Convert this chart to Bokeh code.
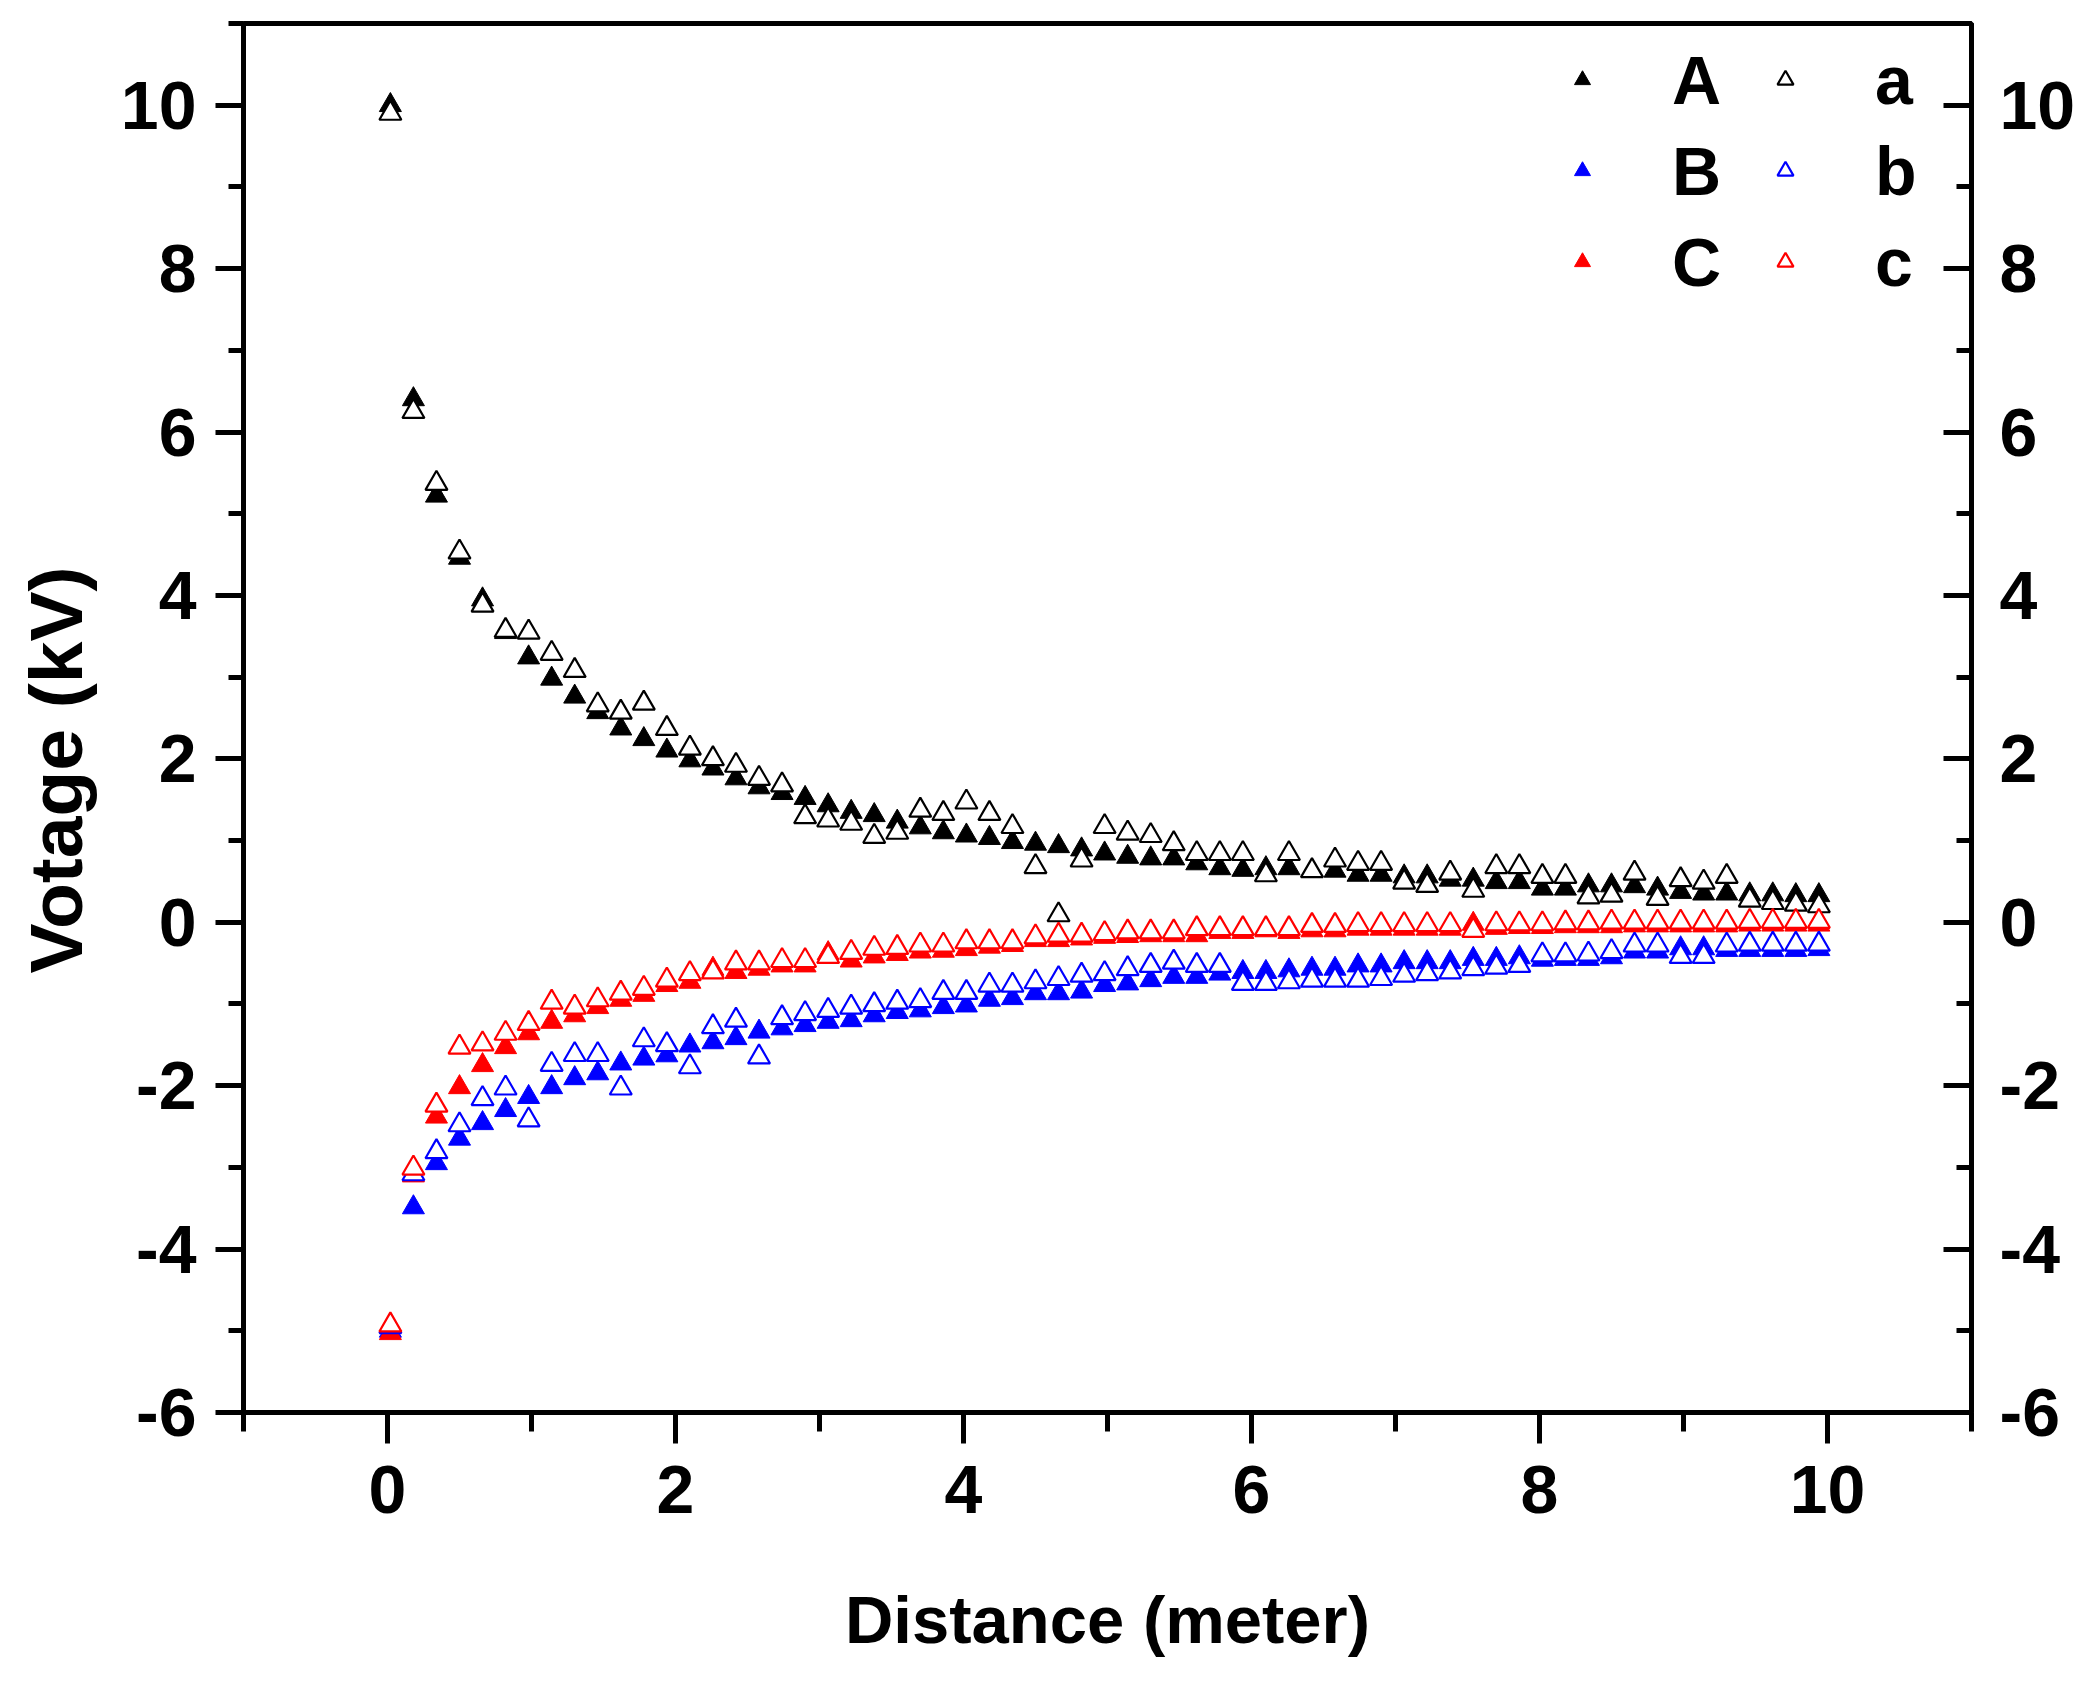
from bokeh.plotting import figure
from bokeh.models import LinearAxis, SingleIntervalTicker, Legend, LegendItem, Range1d, CustomJSTickFormatter
from bokeh.embed import file_html
from bokeh.resources import INLINE

# ---- data ----
distance = [0.02, 0.18, 0.34, 0.50, 0.66, 0.82, 0.98, 1.14, 1.30, 1.46, 1.62, 1.78, 1.94, 2.10, 2.26,
            2.42, 2.58, 2.74, 2.90, 3.06, 3.22, 3.38, 3.54, 3.70, 3.86, 4.02, 4.18, 4.34, 4.50, 4.66,
            4.82, 4.98, 5.14, 5.30, 5.46, 5.62, 5.78, 5.94, 6.10, 6.26, 6.42, 6.58, 6.74, 6.90, 7.06,
            7.22, 7.38, 7.54, 7.70, 7.86, 8.02, 8.18, 8.34, 8.50, 8.66, 8.82, 8.98, 9.14, 9.30, 9.46,
            9.62, 9.78, 9.94]

A = [10.0, 6.4, 5.22, 4.46, 3.95, 3.55, 3.24, 2.98, 2.76, 2.57,
     2.37, 2.24, 2.1, 1.98, 1.88, 1.76, 1.65, 1.58, 1.52, 1.43,
     1.35, 1.31, 1.23, 1.16, 1.10, 1.06, 1.03, 0.98, 0.96, 0.93,
     0.89, 0.84, 0.80, 0.78, 0.78, 0.72, 0.66, 0.64, 0.66, 0.66,
     0.63, 0.63, 0.58, 0.58, 0.56, 0.56, 0.52, 0.52, 0.49, 0.49,
     0.41, 0.41, 0.45, 0.45, 0.44, 0.41, 0.37, 0.35, 0.35, 0.34,
     0.34, 0.33, 0.33]
a = [9.9, 6.25, 5.37, 4.53, 3.88, 3.57, 3.55, 3.29, 3.08, 2.66,
     2.57, 2.68, 2.37, 2.13, 2.0, 1.92, 1.76, 1.68, 1.29, 1.25,
     1.21, 1.05, 1.1, 1.37, 1.33, 1.47, 1.33, 1.17, 0.68, 0.09,
     0.76, 1.17, 1.09, 1.06, 0.96, 0.84, 0.84, 0.84, 0.58, 0.84,
     0.63, 0.76, 0.72, 0.72, 0.49, 0.45, 0.60, 0.39, 0.68, 0.68,
     0.56, 0.56, 0.31, 0.33, 0.60, 0.29, 0.52, 0.49, 0.56, 0.27,
     0.24, 0.22, 0.20]
B = [-5.0, -3.49, -2.95, -2.65, -2.46, -2.3, -2.14, -2.02, -1.91, -1.85,
     -1.73, -1.67, -1.63, -1.51, -1.47, -1.42, -1.34, -1.3, -1.26, -1.22,
     -1.2, -1.14, -1.1, -1.08, -1.04, -1.02, -0.95, -0.93, -0.87, -0.87,
     -0.85, -0.77, -0.75, -0.71, -0.67, -0.67, -0.63, -0.61, -0.61, -0.59,
     -0.57, -0.57, -0.53, -0.53, -0.49, -0.49, -0.49, -0.45, -0.45, -0.43,
     -0.46, -0.45, -0.45, -0.43, -0.36, -0.36, -0.32, -0.32, -0.34, -0.34,
     -0.34, -0.34, -0.33]
b = [-4.95, -3.08, -2.81, -2.48, -2.16, -2.03, -2.42, -1.74, -1.62, -1.62,
     -2.03, -1.44, -1.5, -1.77, -1.28, -1.2, -1.65, -1.17, -1.12, -1.08,
     -1.04, -1.01, -0.98, -0.96, -0.86, -0.86, -0.77, -0.77, -0.73, -0.69,
     -0.65, -0.63, -0.57, -0.53, -0.49, -0.53, -0.53, -0.75, -0.75, -0.73,
     -0.71, -0.71, -0.71, -0.69, -0.65, -0.63, -0.61, -0.57, -0.55, -0.53,
     -0.40, -0.40, -0.39, -0.36, -0.28, -0.28, -0.42, -0.42, -0.28, -0.27,
     -0.27, -0.27, -0.27]
C = [-5.03, -3.1, -2.38, -2.02, -1.75, -1.53, -1.36, -1.22, -1.14, -1.04,
     -0.95, -0.89, -0.77, -0.73, -0.57, -0.61, -0.57, -0.53, -0.53, -0.38,
     -0.47, -0.42, -0.39, -0.36, -0.35, -0.33, -0.30, -0.28, -0.22, -0.22,
     -0.20, -0.18, -0.17, -0.16, -0.16, -0.16, -0.12, -0.12, -0.10, -0.12,
     -0.10, -0.10, -0.08, -0.08, -0.08, -0.08, -0.08, -0.02, -0.07, -0.06,
     -0.06, -0.05, -0.05, -0.05, -0.04, -0.04, -0.04, -0.04, -0.04, -0.03,
     -0.03, -0.03, -0.03]
c = [-4.93, -3.01, -2.24, -1.53, -1.49, -1.36, -1.24, -0.98, -1.04, -0.95,
     -0.87, -0.81, -0.71, -0.63, -0.61, -0.5, -0.5, -0.47, -0.47, -0.42,
     -0.37, -0.32, -0.31, -0.28, -0.28, -0.24, -0.24, -0.24, -0.18, -0.16,
     -0.16, -0.14, -0.12, -0.12, -0.12, -0.08, -0.08, -0.08, -0.08, -0.08,
     -0.04, -0.04, -0.03, -0.03, -0.03, -0.03, -0.03, -0.10, -0.02, -0.02,
     -0.02, -0.01, -0.01, 0.0, 0.0, 0.0, 0.0, 0.0, 0.0, 0.01,
     0.01, 0.01, 0.01]

filled_labels = ["A", "B", "C"]
open_labels = ["a", "b", "c"]
series_colors = ["#000000", "#0000FF", "#FF0000"]
x_label = "Distance (meter)"
y_label = "Votage (kV)"

FONT = "Liberation Sans"
TICK_FS = "68px"

p = figure(width=2078, height=1673, output_backend="svg", toolbar_location=None,
           x_range=Range1d(-1, 11), y_range=Range1d(-6, 11),
           min_border_left=243, min_border_right=105, min_border_top=23, min_border_bottom=261)
p.xgrid.visible = False
p.ygrid.visible = False
p.background_fill_color = "white"
p.border_fill_color = "white"
p.outline_line_color = "black"
p.outline_line_width = 5

MS = 22
filled_r = []
for ys, col in zip([A, B, C], series_colors):
    r = p.scatter(distance, ys, marker="triangle", size=MS, fill_color=col, line_color=col, line_width=1)
    filled_r.append(r)
open_r = []
for ys, col in zip([a, b, c], series_colors):
    r = p.scatter(distance, ys, marker="triangle", size=MS, fill_color="white", line_color=col, line_width=2.2)
    open_r.append(r)

fmt_code = "return tick.toFixed(0);"

def style_axis(ax):
    ax.formatter = CustomJSTickFormatter(code=fmt_code)
    ax.axis_line_width = 5
    ax.axis_line_color = "black"
    ax.major_tick_line_width = 5
    ax.minor_tick_line_width = 5
    ax.major_label_text_font = FONT
    ax.major_label_text_font_style = "bold"
    ax.major_label_text_font_size = TICK_FS
    ax.major_label_text_color = "black"
    ax.axis_label_text_font = FONT
    ax.axis_label_text_font_style = "bold"
    ax.axis_label_text_color = "black"

xa = p.xaxis[0]
xa.ticker = SingleIntervalTicker(interval=2, num_minor_ticks=2)
style_axis(xa)
xa.major_tick_out = 31
xa.major_tick_in = 0
xa.minor_tick_out = 19
xa.minor_tick_in = 0
xa.major_label_standoff = 22
xa.axis_label = x_label
xa.axis_label_text_font_size = "67px"
xa.axis_label_standoff = 66

ya = p.yaxis[0]
ya.ticker = SingleIntervalTicker(interval=2, num_minor_ticks=2)
style_axis(ya)
ya.major_tick_out = 28
ya.major_tick_in = 0
ya.minor_tick_out = 15
ya.minor_tick_in = 0
ya.major_label_standoff = 19
# trailing no-break spaces shift the centred label towards the bottom, as in the original
ya.axis_label = y_label + "\u00a0" * 5
ya.axis_label_text_font_size = "75px"
ya.axis_label_standoff = 20

ra = LinearAxis(ticker=SingleIntervalTicker(interval=2, num_minor_ticks=2))
style_axis(ra)
ra.major_tick_out = 0
ra.major_tick_in = 28
ra.minor_tick_out = 0
ra.minor_tick_in = 15
ra.major_label_standoff = 28
p.add_layout(ra, "right")

def make_legend(labels, renderers, loc):
    leg = Legend(items=[LegendItem(label=l, renderers=[r]) for l, r in zip(labels, renderers)],
                 location=loc, orientation="vertical",
                 glyph_width=40, glyph_height=91, label_height=91, spacing=0,
                 padding=0, margin=0, label_standoff=70,
                 label_text_font=FONT, label_text_font_style="bold", label_text_font_size="68px",
                 label_text_color="black",
                 border_line_color=None, background_fill_alpha=0)
    p.add_layout(leg)

make_legend(filled_labels, filled_r, (1319, 1105))
make_legend(open_labels, open_r, (1522, 1105))

open("out.html", "w").write(file_html(p, INLINE))
